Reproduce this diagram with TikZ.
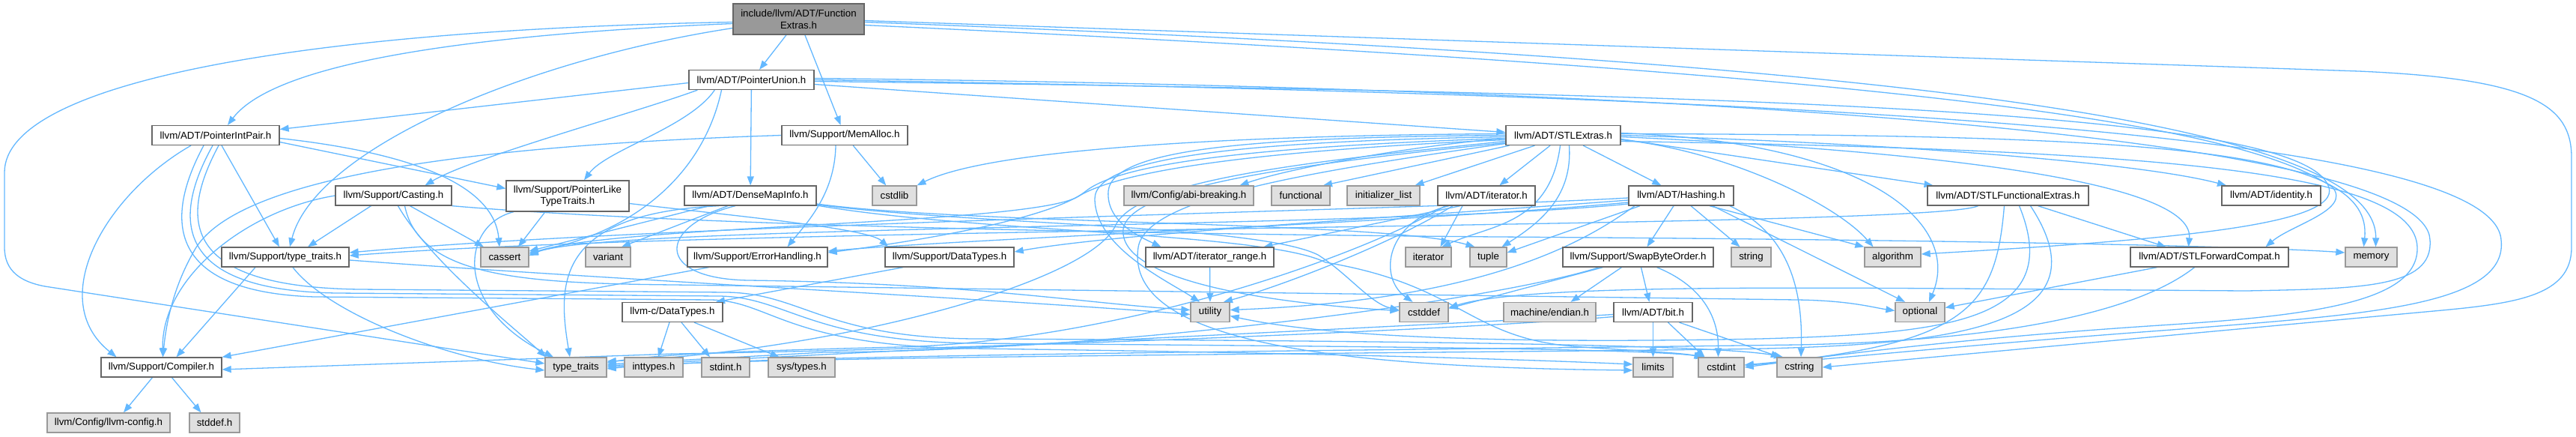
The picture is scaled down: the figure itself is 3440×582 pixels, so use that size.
\documentclass[tikz,border=0pt]{standalone}
\usepackage{fontspec}
\setmainfont{Liberation Sans}
\usetikzlibrary{arrows.meta}
\definecolor{edgec}{HTML}{63B8FF}
\definecolor{gfill}{HTML}{E0E0E0}
\definecolor{gbord}{HTML}{999999}
\definecolor{wbord}{HTML}{666666}
\definecolor{tfill}{HTML}{999999}
\pgfdeclarelayer{bg}
\pgfsetlayers{bg,main}
\tikzset{
 nbase/.style={draw, line width=1.3pt, inner sep=0pt, minimum height=26pt, font=\fontsize{13.3}{15.5}\selectfont, text=black, align=center},
 wn/.style={nbase, draw=wbord, fill=white},
 gn/.style={nbase, draw=gbord, fill=gfill},
 tn/.style={nbase, draw=wbord, fill=tfill},
 dep/.style={draw=edgec, line width=1.3pt, -{Triangle[length=12pt,width=9pt]}},
}
\begin{document}
\begin{tikzpicture}[x=1pt,y=-1pt]
\useasboundingbox (0,0) rectangle (3440,582);
% nodes
\node[tn, minimum width=175pt, minimum height=41pt] (F) at (1066.5,25.5) {include/llvm/ADT/Function\\Extras.h};
\node[wn, minimum width=167pt] (PU) at (1003.5,106.5) {llvm/ADT/PointerUnion.h};
\node[wn, minimum width=170pt] (PIP) at (288,180.5) {llvm/ADT/PointerIntPair.h};
\node[wn, minimum width=168pt] (MA) at (1128,180.5) {llvm/Support/MemAlloc.h};
\node[wn, minimum width=153pt] (STL) at (2087.5,180.5) {llvm/ADT/STLExtras.h};
\node[wn, minimum width=155pt] (CAST) at (525.5,261) {llvm/Support/Casting.h};
\node[wn, minimum width=164pt, minimum height=41pt] (PLTT) at (758,261.5) {llvm/Support/PointerLike\\TypeTraits.h};
\node[wn, minimum width=176pt] (DMI) at (1002,261) {llvm/ADT/DenseMapInfo.h};
\node[gn, minimum width=59pt] (cstdlib) at (1194.5,261) {cstdlib};
\node[gn, minimum width=173pt] (abi) at (1587.5,261) {llvm/Config/abi-breaking.h};
\node[gn, minimum width=78pt] (functional) at (1737,261) {functional};
\node[gn, minimum width=97pt] (initlist) at (1847.5,261) {initializer\_list};
\node[wn, minimum width=130pt] (iterh) at (1985,261) {llvm/ADT/iterator.h};
\node[wn, minimum width=140pt] (hash) at (2245,261) {llvm/ADT/Hashing.h};
\node[wn, minimum width=215pt] (stlfe) at (2681.5,261) {llvm/ADT/STLFunctionalExtras.h};
\node[wn, minimum width=132pt] (ident) at (3033,261) {llvm/ADT/identity.h};
\node[wn, minimum width=170pt] (ttH) at (381,343) {llvm/Support/type\_traits.h};
\node[gn, minimum width=64pt] (cassert) at (674,343) {cassert};
\node[gn, minimum width=60pt] (variant) at (812,343) {variant};
\node[wn, minimum width=187pt] (EH) at (1011.5,343) {llvm/Support/ErrorHandling.h};
\node[wn, minimum width=172pt] (DT) at (1268,343) {llvm/Support/DataTypes.h};
\node[wn, minimum width=171pt] (itrange) at (1615.5,343) {llvm/ADT/iterator\_range.h};
\node[gn, minimum width=61pt] (iterator) at (1907.5,343) {iterator};
\node[gn, minimum width=49pt] (tuple) at (1987.5,343) {tuple};
\node[wn, minimum width=201pt] (sbo) at (2187.5,343) {llvm/Support/SwapByteOrder.h};
\node[gn, minimum width=53pt] (string) at (2338.5,343) {string};
\node[gn, minimum width=75pt] (algorithm) at (2527.5,343) {algorithm};
\node[wn, minimum width=211pt] (stlfc) at (2950.5,343) {llvm/ADT/STLForwardCompat.h};
\node[gn, minimum width=69pt] (memory) at (3166.5,343) {memory};
\node[wn, minimum width=134pt] (cDT) at (898,416.5) {llvm-c/DataTypes.h};
\node[gn, minimum width=52pt] (utility) at (1616,416.5) {utility};
\node[gn, minimum width=65pt] (cstddef) at (1901.5,416.5) {cstddef};
\node[gn, minimum width=123pt] (endian) at (2069.5,416.5) {machine/endian.h};
\node[wn, minimum width=105pt] (bit) at (2207.5,416.5) {llvm/ADT/bit.h};
\node[gn, minimum width=66pt] (optional) at (2564,416.5) {optional};
\node[wn, minimum width=161pt] (comp) at (215.5,490) {llvm/Support/Compiler.h};
\node[gn, minimum width=82pt] (tt) at (769,490) {type\_traits};
\node[gn, minimum width=78pt] (inttypes) at (873,490) {inttypes.h};
\node[gn, minimum width=64pt] (stdint) at (969,490) {stdint.h};
\node[gn, minimum width=89pt] (systypes) at (1070.5,490) {sys/types.h};
\node[gn, minimum width=53pt] (limits) at (2207.5,490) {limits};
\node[gn, minimum width=61pt] (cstdint) at (2298.5,490) {cstdint};
\node[gn, minimum width=60pt] (cstring) at (2403,490) {cstring};
\node[gn, minimum width=164pt] (llvmconfig) at (145,564) {llvm/Config/llvm-config.h};
\node[gn, minimum width=67pt] (stddef) at (286.5,564) {stddef.h};

\begin{pgfonlayer}{bg}
\fill[white] (0,0) rectangle (3440,582);
% FunctionExtras
\draw[dep] (F) -- (PU);
\draw[dep] (F) -- (MA);
\draw[dep] ([yshift=-6pt]F.west) .. controls (650,45) and (370,80) .. ([xshift=16pt]PIP.north);
\draw[dep] ([yshift=-12pt]F.west) .. controls (700,80) and (420,200) .. ([xshift=6pt]ttH.north);
\draw[dep] ([yshift=-4pt]F.west) .. controls (400,40) and (6,110) .. (6,230) -- (6,330) .. controls (6,362) and (28,376) .. (60,382) -- ([yshift=5pt]tt.west);
\draw[dep] ([yshift=-2pt]F.east) -- (3150,95) .. controls (3380,105) and (3434,140) .. (3434,210) -- (3434,330) .. controls (3434,395) and (3360,405) .. (3250,415) -- (cstring.east);
\draw[dep] ([yshift=-4pt]F.east) .. controls (2500,80) and (3175,160) .. ([xshift=6pt]memory.north);
\draw[dep] ([yshift=-8pt]F.east) .. controls (2600,100) and (3000,170) .. (3115,250) .. controls (3140,280) and (3060,300) .. ([xshift=75pt]stlfc.north);
% PointerUnion
\draw[dep] (PU) -- (DMI);
\draw[dep] ([yshift=-4pt]PU.west) -- ([yshift=8pt]PIP.east);
\draw[dep] ([xshift=12pt]PU.south west) .. controls (850,150) and (630,210) .. ([xshift=42pt]CAST.north);
\draw[dep] ([xshift=35pt]PU.south west) .. controls (920,170) and (810,200) .. ([xshift=22pt]PLTT.north);
\draw[dep] ([xshift=-40pt]PU.south) .. controls (940,230) and (850,310) .. ([yshift=6pt]cassert.east);
\draw[dep] ([yshift=-6pt]PU.east) -- ([yshift=4pt]STL.west);
\draw[dep] ([yshift=-2pt]PU.east) .. controls (2400,125) and (3080,150) .. (3110,250) .. controls (3125,300) and (2900,320) .. ([yshift=4pt]algorithm.east);
\draw[dep] (PU.east) .. controls (2600,130) and (3330,190) .. (3340,320) .. controls (3350,410) and (3150,420) .. (2900,440) .. controls (2600,462) and (2420,482) .. ([yshift=3pt]cstdint.east);
\draw[dep] ([yshift=2pt]PU.east) .. controls (2500,120) and (3240,200) .. (3245,320) .. controls (3250,385) and (3150,385) .. (3000,388) .. controls (2500,385) and (2050,375) .. ([yshift=6pt]cstddef.east);
% PointerIntPair
\draw[dep] ([xshift=-33pt]PIP.south) .. controls (140,260) and (60,400) .. ([xshift=-60pt]comp.north);
\draw[dep] ([yshift=-9pt]PIP.east) -- ([yshift=10pt]PLTT.west);
\draw[dep] ([xshift=8pt]PIP.south) -- ([xshift=-8pt]ttH.north);
\draw[dep] ([yshift=-4pt]PIP.east) .. controls (560,205) and (660,250) .. ([xshift=-7pt]cassert.north);
\draw[dep] ([xshift=-16pt]PIP.south) .. controls (215,300) and (230,390) .. (420,396) -- (950,400) .. controls (1030,402) and (1050,462) .. (1300,465) .. controls (1700,470) and (2000,478) .. ([yshift=4pt]limits.west);
\draw[dep] ([xshift=-4pt]PIP.south) .. controls (225,300) and (240,388) .. (450,391) -- (960,395) .. controls (1050,396) and (1080,455) .. (1300,458) .. controls (1800,462) and (2200,465) .. ([xshift=-22pt]cstdint.north);
\draw[dep] ([xshift=4pt]PIP.south) .. controls (235,300) and (250,383) .. (480,386) -- (970,390) .. controls (1070,391) and (1100,450) .. (1300,452) .. controls (1900,455) and (2300,460) .. ([xshift=-22pt]cstring.north);
% MemAlloc
\draw[dep] (MA.west) .. controls (600,195) and (320,240) .. (262,330) .. controls (232,380) and (222,430) .. ([xshift=2pt]comp.north);
\draw[dep] ([xshift=-12pt]MA.south) .. controls (1115,260) and (1075,300) .. ([xshift=40pt]EH.north);
\draw[dep] (MA) -- (cstdlib);
% STLExtras
\draw[dep] (STL) -- (iterh);
\draw[dep] (STL) -- (hash);
\draw[dep] ([xshift=-38pt]STL.south) -- ([xshift=42pt]initlist.north);
\draw[dep] ([xshift=-72pt]STL.south) -- ([xshift=30pt]functional.north);
\draw[dep] ([yshift=-4pt]STL.west) .. controls (1880,195) and (1720,225) .. ([xshift=68pt]abi.north);
\draw[dep] ([yshift=-5pt]STL.east) -- ([xshift=-100pt]stlfe.north);
\draw[dep] (STL.east) .. controls (2500,190) and (2850,215) .. ([xshift=-60pt]ident.north);
\draw[dep] ([yshift=-2pt]STL.east) .. controls (2650,205) and (2930,250) .. ([xshift=-28pt]stlfc.north);
\draw[dep] ([yshift=2pt]STL.east) .. controls (2900,180) and (3170,200) .. ([xshift=-10pt]memory.north);
\draw[dep] ([yshift=-6pt]STL.east) .. controls (2300,200) and (2450,270) .. ([xshift=-26pt]algorithm.north);
\draw[dep] ([yshift=3pt]STL.east) .. controls (2500,190) and (2620,300) .. ([xshift=12pt]optional.north);
\draw[dep] ([yshift=2pt]STL.west) .. controls (1700,180) and (1330,195) .. ([xshift=30pt]cstdlib.north);
\draw[dep] (STL.west) .. controls (1700,183) and (1485,195) .. (1480,255) .. controls (1477,295) and (1520,315) .. ([xshift=-65pt]itrange.north);
\draw[dep] ([yshift=-2pt]STL.west) .. controls (1700,188) and (1462,205) .. (1462,265) .. controls (1462,330) and (1560,375) .. ([xshift=-14pt]utility.north);
\draw[dep] ([yshift=-4pt]STL.west) .. controls (1700,195) and (1500,215) .. (1450,255) .. controls (1400,295) and (1200,325) .. ([yshift=6pt]EH.east);
\draw[dep] ([yshift=-6pt]STL.west) .. controls (1700,200) and (1500,225) .. (1440,262) .. controls (1380,300) and (820,300) .. ([yshift=4pt]cassert.east);
\draw[dep] ([yshift=-8pt]STL.west) .. controls (1750,215) and (1520,240) .. (1490,300) .. controls (1455,380) and (1100,470) .. ([yshift=8pt]tt.east);
\draw[dep] ([yshift=-10pt]STL.west) .. controls (1720,220) and (1510,250) .. (1500,305) .. controls (1492,375) and (1700,405) .. ([yshift=2pt]cstddef.west);
\draw[dep] ([yshift=-11pt]STL.west) .. controls (1740,230) and (1530,265) .. (1520,330) .. controls (1500,460) and (1800,490) .. ([yshift=-4pt]limits.west);
\draw[dep] ([yshift=-8pt]STL.east) .. controls (2900,200) and (3225,230) .. (3228,330) .. controls (3230,400) and (3100,420) .. (2900,433) .. controls (2600,452) and (2420,478) .. (cstdint.east);
\draw[dep] ([xshift=8pt]STL.south) .. controls (2100,260) and (2060,295) .. ([xshift=18pt]tuple.north);
\draw[dep] ([xshift=-4pt]STL.south) .. controls (2070,300) and (1990,300) .. ([xshift=18pt]iterator.north);
% Casting
\draw[dep] (CAST.west) .. controls (330,280) and (215,370) .. ([xshift=2pt]comp.north);
\draw[dep] ([xshift=-30pt]CAST.south) -- ([xshift=30pt]ttH.north);
\draw[dep] ([xshift=22pt]CAST.south) -- ([xshift=-28pt]cassert.north);
\draw[dep] ([xshift=6pt]CAST.south) .. controls (575,350) and (690,440) .. ([xshift=-40pt]tt.north);
\draw[dep] (CAST.south east) .. controls (900,300) and (1500,312) .. (2000,316) .. controls (2600,320) and (3000,328) .. ([yshift=6pt]memory.west);
\draw[dep] ([xshift=15pt]CAST.south) .. controls (560,370) and (700,378) .. (900,380) -- (2400,400) .. controls (2470,401) and (2500,410) .. ([yshift=2pt]optional.west);
% PointerLikeTypeTraits
\draw[dep] ([xshift=-30pt]PLTT.south) -- ([xshift=18pt]cassert.north);
\draw[dep] ([xshift=-72pt]PLTT.south) .. controls (615,300) and (605,410) .. ([xshift=-30pt]tt.north);
\draw[dep] ([yshift=-10pt]PLTT.east) .. controls (1000,290) and (1160,305) .. ([xshift=-82pt]DT.north);
% DenseMapInfo
\draw[dep] ([xshift=-30pt]DMI.south) -- ([xshift=18pt]variant.north);
\draw[dep] ([xshift=-55pt]DMI.south) -- ([yshift=8pt]cassert.east);
\draw[dep] ([xshift=-42pt]DMI.south) .. controls (740,285) and (745,380) .. ([xshift=-8pt]tt.north);
\draw[dep] ([xshift=-20pt]DMI.south) .. controls (880,300) and (870,372) .. (1000,374) .. controls (1300,378) and (1450,405) .. ([yshift=3pt]utility.west);
\draw[dep] ([yshift=-11pt]DMI.east) .. controls (1300,300) and (1850,295) .. ([xshift=-18pt]tuple.north);
\draw[dep] ([yshift=-12pt]DMI.east) .. controls (1300,300) and (1680,300) .. (1760,340) .. controls (1800,365) and (1830,405) .. ([yshift=3pt]cstddef.west);
\draw[dep] ([yshift=-13pt]DMI.east) .. controls (1300,310) and (1690,310) .. (1770,350) .. controls (1950,380) and (1960,450) .. (2100,462) .. controls (2180,468) and (2240,470) .. ([xshift=-24pt]cstdint.north);
% type_traits.h
\draw[dep] ([xshift=-40pt]ttH.south) -- ([xshift=20pt]comp.north);
\draw[dep] ([xshift=10pt]ttH.south) .. controls (440,420) and (600,480) .. ([yshift=-4pt]tt.west);
\draw[dep] ([yshift=-4pt]ttH.east) .. controls (800,372) and (1350,400) .. ([yshift=-3pt]utility.west);
% ErrorHandling, DataTypes
\draw[dep] ([xshift=-65pt]EH.south) -- (comp.north east);
\draw[dep] ([xshift=-62pt]DT.south) -- ([xshift=58pt]cDT.north);
\draw[dep] ([xshift=-4pt]cDT.south) -- ([xshift=6pt]inttypes.north);
\draw[dep] ([xshift=12pt]cDT.south) -- ([xshift=-21pt]stdint.north);
\draw[dep] ([xshift=29pt]cDT.south) -- ([xshift=-30pt]systypes.north);
\draw[dep] ([xshift=-12pt]comp.south) -- ([xshift=20pt]llvmconfig.north);
\draw[dep] ([xshift=14pt]comp.south) -- ([xshift=-18pt]stddef.north);
% iterator.h
\draw[dep] ([xshift=-35pt]iterh.south) -- ([xshift=72pt]itrange.north);
\draw[dep] ([xshift=-32pt]iterh.south) -- ([xshift=16pt]iterator.north);
\draw[dep] ([xshift=-50pt]iterh.south) .. controls (1850,295) and (1840,370) .. ([xshift=-15pt]cstddef.north);
\draw[dep] ([xshift=-45pt]iterh.south) .. controls (1850,330) and (1700,385) .. ([xshift=18pt]utility.north);
\draw[dep] ([xshift=-55pt]iterh.south) .. controls (1820,340) and (1500,455) .. (1200,463) .. controls (1000,468) and (880,472) .. ([yshift=6pt]tt.east);
\draw[dep] (itrange) -- (utility);
% Hashing
\draw[dep] ([xshift=13pt]hash.south) -- ([xshift=-15pt]string.north);
\draw[dep] ([xshift=38pt]hash.south) -- (algorithm.north west);
\draw[dep] ([xshift=42pt]hash.south) -- ([xshift=-20pt]optional.north);
\draw[dep] ([xshift=65pt]hash.south) .. controls (2385,310) and (2408,380) .. ([xshift=2pt]cstring.north);
\draw[dep] ([xshift=-10pt]hash.south) -- ([xshift=12pt]sbo.north);
\draw[dep] ([xshift=-55pt]hash.south) -- ([yshift=6pt]tuple.east);
\draw[dep] ([xshift=-62pt]hash.south) .. controls (2120,320) and (1990,400) .. ([yshift=3pt]utility.east);
\draw[dep] ([yshift=-6pt]hash.west) .. controls (1900,288) and (1500,310) .. ([yshift=7pt]DT.east);
\draw[dep] ([yshift=-9pt]hash.west) .. controls (1900,296) and (1300,318) .. ([yshift=8pt]EH.east);
\draw[dep] ([yshift=-3pt]hash.west) .. controls (1900,280) and (900,298) .. ([yshift=6pt]ttH.east);
\draw[dep] ([yshift=-11pt]hash.west) .. controls (1850,305) and (800,300) .. ([yshift=2pt]cassert.east);
% SwapByteOrder
\draw[dep] ([xshift=4pt]sbo.south) -- ([xshift=-5pt]bit.north);
\draw[dep] ([xshift=-22pt]sbo.south) -- ([xshift=28pt]endian.north);
\draw[dep] ([xshift=-47pt]sbo.south) -- ([yshift=5pt]cstddef.east);
\draw[dep] ([xshift=-52pt]sbo.south) .. controls (2000,400) and (1500,468) .. (1100,470) -- ([yshift=4pt]tt.east);
\draw[dep] ([xshift=25pt]sbo.south) .. controls (2270,380) and (2295,420) .. ([xshift=-4pt]cstdint.north);
% bit.h
\draw[dep] (bit) -- (limits);
\draw[dep] ([xshift=20pt]bit.south) -- ([xshift=-22pt]cstdint.north);
\draw[dep] ([xshift=35pt]bit.south) -- ([xshift=-26pt]cstring.north);
\draw[dep] ([yshift=-6pt]bit.west) .. controls (1950,440) and (1300,466) .. (900,472) -- ([yshift=-3pt]comp.east);
\draw[dep] ([yshift=-3pt]bit.west) .. controls (1950,432) and (1300,462) .. ([yshift=2pt]tt.east);
% STLFunctionalExtras
\draw[dep] ([xshift=40pt]stlfe.south) -- ([xshift=-58pt]stlfc.north);
\draw[dep] ([xshift=-40pt]stlfe.south) .. controls (2580,305) and (1000,300) .. ([yshift=2pt]ttH.east);
\draw[dep] ([xshift=-5pt]stlfe.south) .. controls (2665,410) and (2630,460) .. ([yshift=3pt]cstdint.east);
\draw[dep] ([xshift=15pt]stlfe.south) .. controls (2760,430) and (2600,445) .. (2350,452) .. controls (1950,460) and (1750,445) .. ([yshift=-5pt]utility.east);
\draw[dep] ([xshift=30pt]stlfe.south) .. controls (2820,440) and (2600,462) .. (2300,466) .. controls (1800,472) and (1000,476) .. (tt.east);
% STLForwardCompat
\draw[dep] ([xshift=-70pt]stlfc.south) -- ([yshift=6pt]optional.east);
\draw[dep] ([xshift=-20pt]stlfc.south) .. controls (2850,420) and (2660,455) .. (2400,460) .. controls (1800,468) and (1000,473) .. ([yshift=-2pt]tt.east);
\end{pgfonlayer}
\end{tikzpicture}
\end{document}
